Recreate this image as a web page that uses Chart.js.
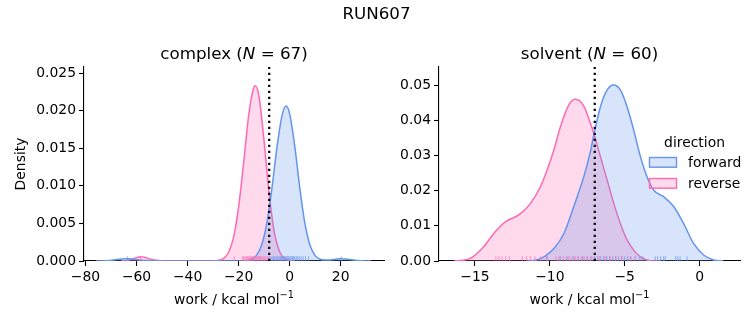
<!DOCTYPE html>
<html>
<head>
<meta charset="utf-8">
<title>RUN607</title>
<script src="https://cdn.jsdelivr.net/npm/chart.js@4.4.1/dist/chart.umd.min.js"></script>
<style>
  html, body { margin: 0; padding: 0; background: #fff; }
  #wrap { position: relative; width: 753px; height: 325px; }
  #wrap canvas { position: absolute; left: 0; top: 0; }
</style>
</head>
<body>
<div id="wrap">
  <canvas id="complex-chart" width="753" height="325"></canvas>
  <canvas id="solvent-chart" width="753" height="325"></canvas>
</div>
<script>
// tick values
const complexTicksX = [-80, -60, -40, -20, 0, 20];
const complexTicksY = [0, 0.005, 0.01, 0.015, 0.02, 0.025];
const solventTicksX = [-15, -10, -5, 0];
const solventTicksY = [0, 0.01, 0.02, 0.03, 0.04, 0.05];

// complex leg: density curves
const complexForwardX = [-76, -72, -69, -66, -64, -62, -59, -56, -52, -48, -40, -30, -20, -17, -15, -13, -11, -9, -7, -5, -3, -1.4, 0, 2, 4, 6, 8, 10, 12, 14, 16, 18, 20, 22, 25, 28, 32];
const complexForwardDensity = [0, 0.00004, 0.00013, 0.00026, 0.0003, 0.00027, 0.00015, 0.00006, 0.00001, 0, 0, 0, 0.00001, 0.00005, 0.0002, 0.00074, 0.0021, 0.0049, 0.0095, 0.015, 0.0193, 0.0206, 0.0196, 0.0153, 0.0097, 0.005, 0.0021, 0.00072, 0.00023, 0.00012, 0.00014, 0.00024, 0.0003, 0.00026, 0.00012, 0.00003, 0];
const complexReverseX = [-66, -64, -62, -60, -58.4, -57, -55, -53, -50, -46, -36, -32, -30, -28, -26, -24, -22, -20, -18, -16, -14, -13.4, -12, -10, -8, -6, -4, -2, 0, 2];
const complexReverseDensity = [0, 0.00007, 0.00022, 0.00045, 0.00058, 0.0005, 0.0003, 0.00012, 0.00003, 0, 0, 0.00001, 0.00002, 0.00007, 0.00032, 0.0011, 0.0031, 0.0072, 0.0131, 0.0195, 0.0231, 0.0233, 0.0219, 0.0159, 0.0089, 0.0038, 0.0013, 0.00033, 0.00006, 0];

// solvent leg: density curves
const solventForwardX = [-11.5, -10.9, -10.38, -9.71, -9.05, -8.4, -7.73, -7.29, -7.06, -6.62, -6.17, -5.73, -5.29, -4.84, -4.4, -3.95, -3.51, -3.07, -2.4, -1.73, -1.07, -0.4, 0.27, 0.93, 1.6];
const solventForwardDensity = [0, 0.0003, 0.0012, 0.0036, 0.0079, 0.0155, 0.024, 0.0311, 0.0359, 0.0439, 0.0487, 0.0501, 0.0487, 0.0439, 0.0373, 0.0297, 0.024, 0.0202, 0.0183, 0.0155, 0.0107, 0.005, 0.0017, 0.0003, 0];
const solventReverseX = [-16.4, -15.8, -15.4, -15.07, -14.4, -13.73, -12.95, -12.07, -11.29, -10.62, -10.18, -9.73, -9.29, -8.73, -8.29, -7.73, -7.29, -7.06, -6.62, -6.17, -5.73, -5.29, -4.84, -4.4, -3.95, -3.29, -2.6];
const solventReverseDensity = [0, 0.0002, 0.0006, 0.0014, 0.0041, 0.0079, 0.0112, 0.0131, 0.0164, 0.0212, 0.0259, 0.0316, 0.0382, 0.0444, 0.046, 0.0441, 0.0392, 0.0363, 0.0297, 0.023, 0.0164, 0.0107, 0.006, 0.0031, 0.0012, 0.0001, 0];

// individual work values (rug)
const complexForwardWork = [-63.6, -7.6, -6.9, -6.3, -5.8, -5.2, -4.7, -4.1, -3.6, -3.2, -2.8, -2.3, -1.9, -1.5, -1.1, -0.7, -0.3, 0.2, 0.6, 1.1, 1.5, 2.0, 2.6, 3.1, 3.8, 4.5, 5.3, 6.2, 7.4, 20.2];
const complexReverseWork = [-58.4, -21.7, -18.4, -18.0, -17.5, -17.0, -16.6, -16.2, -15.8, -15.4, -15.0, -14.7, -14.3, -13.9, -13.5, -13.1, -12.7, -12.3, -11.8, -11.4, -10.9, -10.4, -9.9, -9.3, -8.6, -8.1];
const solventForwardWork = [-10.2, -9.3, -8.8, -8.4, -8.1, -7.8, -7.5, -7.2, -7.0, -6.8, -6.6, -6.4, -6.2, -6.0, -5.8, -5.6, -5.4, -5.2, -5.0, -4.8, -4.6, -4.3, -4.0, -3.8, -2.96, -2.8, -2.6, -2.4, -2.29, -1.6, -1.45, -1.3, -0.84];
const solventReverseWork = [-13.6, -13.4, -13.2, -12.95, -12.7, -11.84, -11.55, -11.29, -11.0, -10.62, -10.17, -9.6, -9.4, -9.1, -8.9, -8.7, -8.5, -8.3, -8.1, -7.9, -7.7, -7.5, -7.3, -7.0, -6.7, -6.3, -6.0, -5.6, -5.2, -4.6];

// dotted reference line per leg
const complexRefWork = -8.0;
const solventRefWork = -7.0;

const BLUE = '#6495ED', BLUE_FILL = 'rgba(100,149,237,0.25)', BLUE_RUG = 'rgba(100,149,237,0.6)';
const PINK = '#FF69B4', PINK_FILL = 'rgba(255,105,180,0.25)', PINK_RUG = 'rgba(255,105,180,0.6)';
const FONT = "'DejaVu Sans', sans-serif";

Chart.defaults.font.family = FONT;
Chart.defaults.font.size = 13.9;
Chart.defaults.color = '#000';

const minus = s => String(s).replace('-', '\u2212');
const toPoints = (xs, ys) => xs.map((x, i) => ({ x: x, y: ys[i] }));

function kdeDataset(label, xs, ys, line, fill) {
    return {
        label: label,
        data: toPoints(xs, ys),
        borderColor: line,
        backgroundColor: fill,
        borderWidth: 1.5,
        fill: 'origin',
        pointRadius: 0,
        cubicInterpolationMode: 'monotone'
    };
}

// draw a run of [text, font] pieces centred on cx
function drawPieces(ctx, pieces, cx, baseline) {
    let total = 0;
    pieces.forEach(p => { ctx.font = p[1]; total += ctx.measureText(p[0]).width; });
    let x = cx - total / 2;
    ctx.textAlign = 'left';
    pieces.forEach(p => {
        ctx.font = p[1];
        ctx.fillText(p[0], x, baseline - (p[2] || 0));
        x += ctx.measureText(p[0]).width;
    });
}

// rug ticks, dotted line, titles, x label and (optionally) legend
function overlayPlugin(cfg) {
    return {
        id: 'overlay',
        afterDatasetsDraw(chart) {
            const { ctx, chartArea, scales } = chart;
            const h = (chartArea.bottom - chartArea.top) * 0.025;
            ctx.save();
            ctx.lineWidth = 1.2;
            cfg.rugs.forEach(r => {
                ctx.strokeStyle = r.color;
                r.values.forEach(v => {
                    const x = scales.x.getPixelForValue(v);
                    ctx.beginPath();
                    ctx.moveTo(x, chartArea.bottom);
                    ctx.lineTo(x, chartArea.bottom - h);
                    ctx.stroke();
                });
            });
            const xr = scales.x.getPixelForValue(cfg.ref);
            ctx.strokeStyle = '#000';
            ctx.lineWidth = 2.2;
            ctx.setLineDash([2.2, 3.8]);
            ctx.beginPath();
            ctx.moveTo(xr, chartArea.bottom);
            ctx.lineTo(xr, chartArea.top);
            ctx.stroke();
            ctx.restore();
        },
        afterDraw(chart) {
            const { ctx, chartArea } = chart;
            const cx = (chartArea.left + chartArea.right) / 2;
            ctx.save();
            ctx.fillStyle = '#000';
            ctx.textBaseline = 'alphabetic';
            const big = `16.7px ${FONT}`;
            const norm = `13.9px ${FONT}`;
            drawPieces(ctx, [
                [cfg.name + ' (', big],
                ['N', `italic 16.7px ${FONT}`],
                [' = ' + cfg.n + ')', big]
            ], cx, chartArea.top - 8.5);
            drawPieces(ctx, [
                ['work / kcal mol', norm],
                ['\u22121', `9.7px ${FONT}`, 5.6]
            ], cx, 304);
            if (cfg.suptitle) {
                ctx.font = big;
                ctx.textAlign = 'center';
                ctx.fillText(cfg.suptitle, 376.5, 19);
            }
            if (cfg.legend) {
                const lg = cfg.legend;
                ctx.font = norm;
                ctx.textAlign = 'center';
                ctx.fillText(lg.title, 694.5, 146.5);
                ctx.textAlign = 'left';
                lg.items.forEach((it, i) => {
                    const y = 157.5 + i * 21;
                    ctx.fillStyle = it.fill;
                    ctx.fillRect(649.5, y, 27, 9.7);
                    ctx.strokeStyle = it.line;
                    ctx.lineWidth = 1.4;
                    ctx.strokeRect(649.5, y, 27, 9.7);
                    ctx.fillStyle = '#000';
                    ctx.fillText(it.label, 688, y + 9.7);
                });
            }
            ctx.restore();
        }
    };
}

function axisBase() {
    return {
        type: 'linear',
        z: 1,
        border: { display: true, color: '#000', width: 1.1 },
        grid: { display: true, drawOnChartArea: false, drawTicks: true, tickLength: 5, tickWidth: 1.1, tickColor: '#000' }
    };
}

function makeChart(canvasId, opt) {
    const ctx = document.getElementById(canvasId).getContext('2d');
    return new Chart(ctx, {
        type: 'line',
        data: { datasets: opt.datasets },
        options: {
            responsive: false,
            animation: false,
            layout: { padding: { left: opt.padLeft, top: 67, right: opt.padRight, bottom: 0 } },
            plugins: { legend: { display: false }, tooltip: { enabled: false } },
            scales: {
                x: Object.assign(axisBase(), {
                    min: opt.xMin, max: opt.xMax,
                    ticks: { padding: 3, maxRotation: 0, autoSkip: false, callback: v => minus(v) },
                    afterBuildTicks: s => { s.ticks = opt.xTicks.map(v => ({ value: v })); },
                    afterFit: s => { s.height = 64; }
                }),
                y: Object.assign(axisBase(), {
                    min: 0, max: opt.yMax,
                    ticks: { padding: 3, callback: v => v.toFixed(opt.yDigits) },
                    afterBuildTicks: s => { s.ticks = opt.yTicks.map(v => ({ value: v })); },
                    afterFit: s => { s.width = opt.yWidth; },
                    title: { display: !!opt.yTitle, text: opt.yTitle || '', padding: { top: 12.7, bottom: 0 } }
                })
            }
        },
        plugins: [overlayPlugin(opt.overlay)]
    });
}

makeChart('complex-chart', {
    datasets: [
        kdeDataset('forward', complexForwardX, complexForwardDensity, BLUE, BLUE_FILL),
        kdeDataset('reverse', complexReverseX, complexReverseDensity, PINK, PINK_FILL)
    ],
    padLeft: 0, padRight: 753 - 384, yWidth: 84,
    xMin: -80.6, xMax: 37, xTicks: complexTicksX,
    yMax: 0.0258, yTicks: complexTicksY, yDigits: 3,
    yTitle: 'Density',
    overlay: {
        name: 'complex', n: 67, ref: complexRefWork, suptitle: 'RUN607',
        rugs: [
            { values: complexForwardWork, color: BLUE_RUG },
            { values: complexReverseWork, color: PINK_RUG }
        ]
    }
});

makeChart('solvent-chart', {
    datasets: [
        kdeDataset('forward', solventForwardX, solventForwardDensity, BLUE, BLUE_FILL),
        kdeDataset('reverse', solventReverseX, solventReverseDensity, PINK, PINK_FILL)
    ],
    padLeft: 389, padRight: 13, yWidth: 50,
    xMin: -17.4, xMax: 2.7, xTicks: solventTicksX,
    yMax: 0.0552, yTicks: solventTicksY, yDigits: 2,
    overlay: {
        name: 'solvent', n: 60, ref: solventRefWork,
        rugs: [
            { values: solventForwardWork, color: BLUE_RUG },
            { values: solventReverseWork, color: PINK_RUG }
        ],
        legend: {
            title: 'direction',
            items: [
                { label: 'forward', line: BLUE, fill: BLUE_FILL },
                { label: 'reverse', line: PINK, fill: PINK_FILL }
            ]
        }
    }
});
</script>
</body>
</html>
